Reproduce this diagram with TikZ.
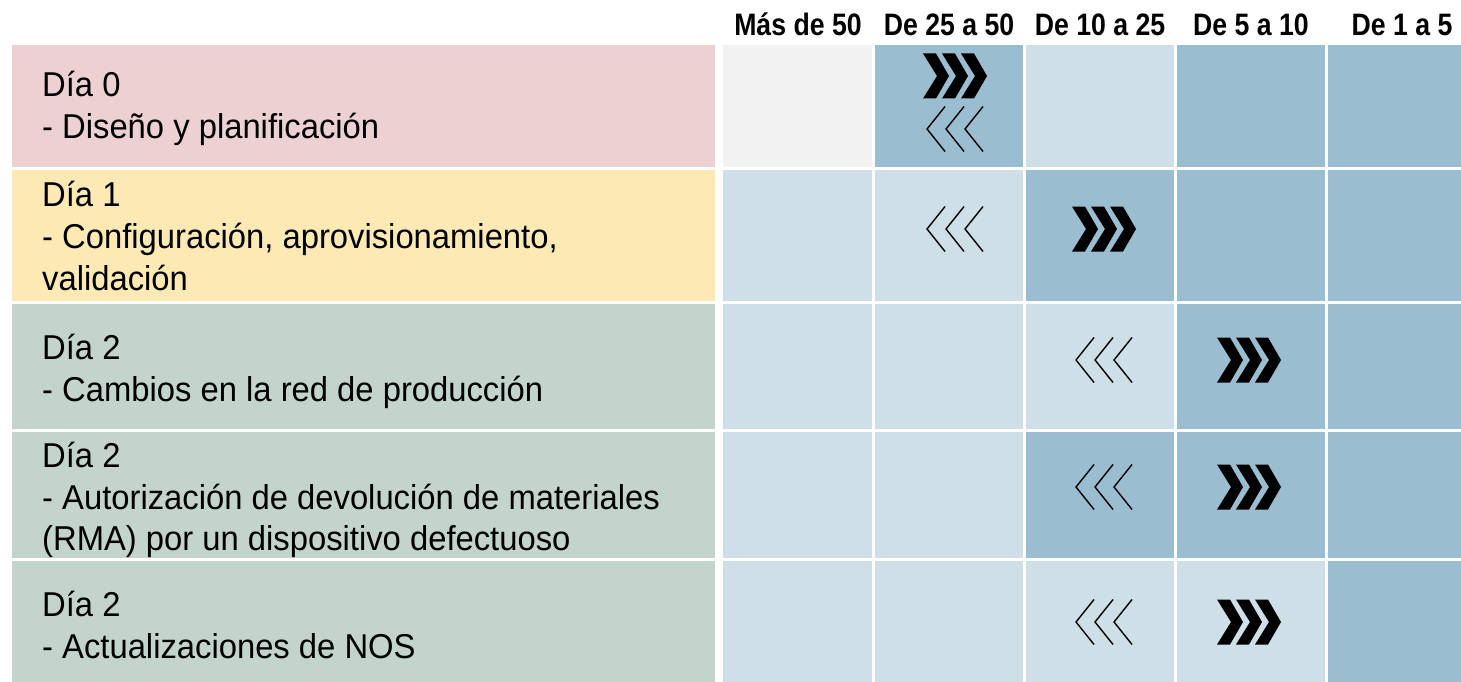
\documentclass[tikz,border=0pt]{standalone}
\usepackage{fontspec}
\setmainfont{Liberation Sans}[FakeStretch=0.95]
\newfontfamily\hdrfont{Liberation Sans}[FakeStretch=0.86]
\definecolor{cpink}{HTML}{EDD0D2}
\definecolor{cyellow}{HTML}{FDE9B3}
\definecolor{cgreen}{HTML}{C3D4CD}
\definecolor{clight}{HTML}{CFDFE8}
\definecolor{cmid}{HTML}{9BBDD0}
\definecolor{cgray}{HTML}{F2F2F2}
\newcommand\boldchev[2]{%
  \foreach \i in {0,1,2}{%
    \fill[black] ({#1+19*\i},{#2-22.5}) -- ++(13,0) -- ++(13,22.5) -- ++(-13,22.5) -- ++(-13,0) -- ++(14,-22.5) -- cycle;}}
\newcommand\thinchev[2]{%
  \foreach \i in {0,1,2}{%
    \draw[black,line width=1.4pt] ({#1+18+19*\i},{#2-22.5}) -- ++(-18,22.5) -- ++(18,22.5);}}
\begin{document}
\begin{tikzpicture}[x=1pt,y=-1pt,
  cell/.style={draw=none,inner sep=0pt,outer sep=0pt,anchor=north west},
  rowtxt/.style={anchor=base west,inner sep=0pt,font=\fontsize{34.5}{40}\selectfont},
  hdr/.style={anchor=base,inner sep=0pt,font=\hdrfont\bfseries\fontsize{31}{36}\selectfont}]
\fill[white] (0,0) rectangle (1461,682);
\useasboundingbox (0,0) rectangle (1461,682);
% left column
\node[cell,fill=cpink,minimum width=703pt,minimum height=122pt] (L1) at (12,45) {};
\node[cell,fill=cyellow,minimum width=703pt,minimum height=131pt] (L2) at (12,170) {};
\node[cell,fill=cgreen,minimum width=703pt,minimum height=125pt] (L3) at (12,304) {};
\node[cell,fill=cgreen,minimum width=703pt,minimum height=126pt] (L4) at (12,432) {};
\node[cell,fill=cgreen,minimum width=703pt,minimum height=121pt] (L5) at (12,561) {};
% grid cells
\foreach \r/\y/\h/\ca/\cb/\cc/\cd/\ce in {
  1/45/122/cgray/cmid/clight/cmid/cmid,
  2/170/131/clight/clight/cmid/cmid/cmid,
  3/304/125/clight/clight/clight/cmid/cmid,
  4/432/126/clight/clight/cmid/cmid/cmid,
  5/561/121/clight/clight/clight/clight/cmid}{
  \node[cell,fill=\ca,minimum width=149pt,minimum height=\h pt] (c\r a) at (723,\y) {};
  \node[cell,fill=\cb,minimum width=148pt,minimum height=\h pt] (c\r b) at (875,\y) {};
  \node[cell,fill=\cc,minimum width=148pt,minimum height=\h pt] (c\r c) at (1026,\y) {};
  \node[cell,fill=\cd,minimum width=148pt,minimum height=\h pt] (c\r d) at (1177,\y) {};
  \node[cell,fill=\ce,minimum width=133pt,minimum height=\h pt] (c\r e) at (1328,\y) {};
}
% headers
\node[hdr] (h1) at (798,36) {Más de 50};
\node[hdr] (h2) at (949,36) {De 25 a 50};
\node[hdr] (h3) at (1100,36) {De 10 a 25};
\node[hdr] (h4) at (1251,36) {De 5 a 10};
\node[hdr] (h5) at (1402,36) {De 1 a 5};
% row texts
\node[rowtxt] (t1a) at (42,97) {Día 0};
\node[rowtxt] (t1b) at (42,139) {- Diseño y planificación};
\node[rowtxt] (t2a) at (42,206) {Día 1};
\node[rowtxt] (t2b) at (42,248) {- Configuración, aprovisionamiento,};
\node[rowtxt] (t2c) at (42,290) {validación};
\node[rowtxt] (t3a) at (42,359) {Día 2};
\node[rowtxt] (t3b) at (42,401) {- Cambios en la red de producción};
\node[rowtxt] (t4a) at (42,467) {Día 2};
\node[rowtxt] (t4b) at (42,509) {- Autorización de devolución de materiales};
\node[rowtxt] (t4c) at (42,550) {(RMA) por un dispositivo defectuoso};
\node[rowtxt] (t5a) at (42,616) {Día 2};
\node[rowtxt] (t5b) at (42,658) {- Actualizaciones de NOS};
% chevrons
\boldchev{923}{76}
\thinchev{927}{129}
\thinchev{927}{229}
\boldchev{1072}{229}
\thinchev{1076}{360}
\boldchev{1217}{360}
\thinchev{1076}{487}
\boldchev{1217}{487}
\thinchev{1076}{622}
\boldchev{1217}{622}
\end{tikzpicture}
\end{document}
